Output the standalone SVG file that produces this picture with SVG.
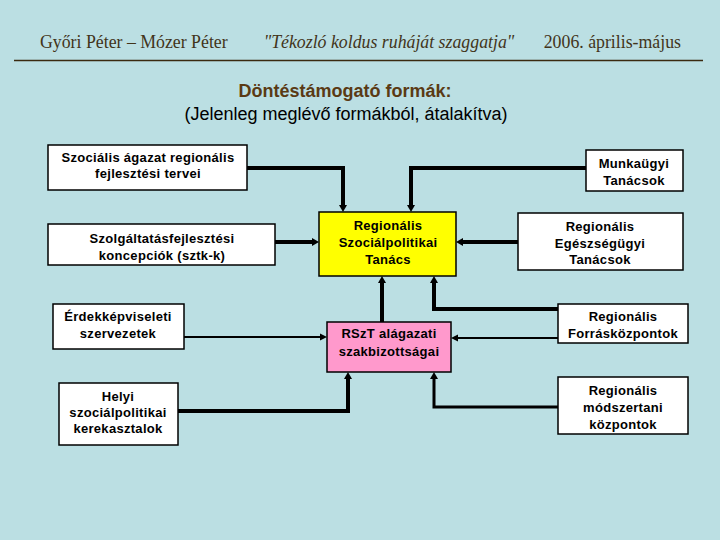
<svg xmlns="http://www.w3.org/2000/svg" width="720" height="540" viewBox="0 0 720 540">
<defs>
<style>
.hd{font-family:"Liberation Serif","Times New Roman",serif;font-size:17.8px;fill:#42341a}
.bx{stroke:#000;stroke-width:1.5}
.t{font-family:"Liberation Sans",Arial,sans-serif;font-size:13px;font-weight:bold;fill:#000;text-anchor:middle;letter-spacing:0.3px}
.c{fill:none;stroke:#000;stroke-linejoin:miter}
</style>
</defs>
<rect width="720" height="540" fill="#bbdfe3"/>
<g id="header">
<text class="hd" x="40" y="48">Győri Péter – Mózer Péter</text>
<text class="hd" x="389" y="48" text-anchor="middle" font-style="italic">"Tékozló koldus ruháját szaggatja"</text>
<text class="hd" x="681" y="48" text-anchor="end">2006. április-május</text>
<line x1="14" y1="60.5" x2="703" y2="60.5" stroke="#3a2a10" stroke-width="1.4"/>
</g>
<g id="title">
<text x="345" y="97" text-anchor="middle" font-family="Liberation Sans,Arial,sans-serif" font-size="18" font-weight="bold" fill="#5a3a14">Döntéstámogató formák:</text>
<text x="346" y="120" text-anchor="middle" font-family="Liberation Sans,Arial,sans-serif" font-size="18" fill="#000">(Jelenleg meglévő formákból, átalakítva)</text>
</g>
<g id="connectors">
<path class="c" stroke-width="4" d="M247,168 H343 V206"/>
<path class="c" stroke-width="4" d="M586,168 H411 V206"/>
<path class="c" stroke-width="4" d="M275,242 H313"/>
<path class="c" stroke-width="4" d="M518,242 H462"/>
<path class="c" stroke-width="4" d="M382,322 V282"/>
<path class="c" stroke-width="4" d="M558,309 H434 V282"/>
<path class="c" stroke-width="2" d="M184,337 H321"/>
<path class="c" stroke-width="2" d="M558,338 H457"/>
<path class="c" stroke-width="4" d="M178,411 H348 V378"/>
<path class="c" stroke-width="3" d="M558,407 H434 V378"/>
<g fill="#000">
<path d="M339,205 L347,205 L343,212 z"/>
<path d="M407,205 L415,205 L411,212 z"/>
<path d="M312,238 L312,246 L319,242 z"/>
<path d="M463,238 L463,246 L456,242 z"/>
<path d="M378,283 L386,283 L382,276 z"/>
<path d="M430,283 L438,283 L434,276 z"/>
<path d="M320,333.5 L320,340.5 L327,337 z"/>
<path d="M458,334.5 L458,341.5 L451,338 z"/>
<path d="M344,379 L352,379 L348,372 z"/>
<path d="M430,379 L438,379 L434,372 z"/>
</g>
</g>
<g id="n1"><rect class="bx" x="48" y="145" width="199" height="45" fill="#fff"/>
<text class="t" x="148" y="162">Szociális ágazat regionális</text><text class="t" x="148" y="178">fejlesztési tervei</text></g>
<g id="n2"><rect class="bx" x="48" y="224" width="227" height="41" fill="#fff"/>
<text class="t" x="162" y="243">Szolgáltatásfejlesztési</text><text class="t" x="162" y="260">koncepciók (sztk-k)</text></g>
<g id="n3"><rect class="bx" x="53" y="304" width="131" height="45" fill="#fff"/>
<text class="t" x="118" y="321">Érdekképviseleti</text><text class="t" x="118" y="338">szervezetek</text></g>
<g id="n4"><rect class="bx" x="59" y="383" width="119" height="62" fill="#fff"/>
<text class="t" x="118" y="401">Helyi</text><text class="t" x="118" y="417">szociálpolitikai</text><text class="t" x="118" y="433">kerekasztalok</text></g>
<g id="n5"><rect class="bx" x="319" y="212" width="137" height="64" fill="#ffff00"/>
<text class="t" x="388" y="230">Regionális</text><text class="t" x="388" y="247">Szociálpolitikai</text><text class="t" x="388" y="264">Tanács</text></g>
<g id="n6"><rect class="bx" x="327" y="322" width="124" height="50" fill="#ff99cc"/>
<text class="t" x="389" y="338">RSzT alágazati</text><text class="t" x="389" y="356">szakbizottságai</text></g>
<g id="n7"><rect class="bx" x="586" y="150" width="97" height="41" fill="#fff"/>
<text class="t" x="634" y="168">Munkaügyi</text><text class="t" x="634" y="185">Tanácsok</text></g>
<g id="n8"><rect class="bx" x="518" y="213" width="165" height="57" fill="#fff"/>
<text class="t" x="600" y="231">Regionális</text><text class="t" x="600" y="248">Egészségügyi</text><text class="t" x="600" y="264">Tanácsok</text></g>
<g id="n9"><rect class="bx" x="558" y="304" width="130" height="39" fill="#fff"/>
<text class="t" x="623" y="321">Regionális</text><text class="t" x="623" y="338">Forrásközpontok</text></g>
<g id="n10"><rect class="bx" x="558" y="377" width="130" height="57" fill="#fff"/>
<text class="t" x="623" y="395">Regionális</text><text class="t" x="623" y="412">módszertani</text><text class="t" x="623" y="429">központok</text></g>
</svg>
